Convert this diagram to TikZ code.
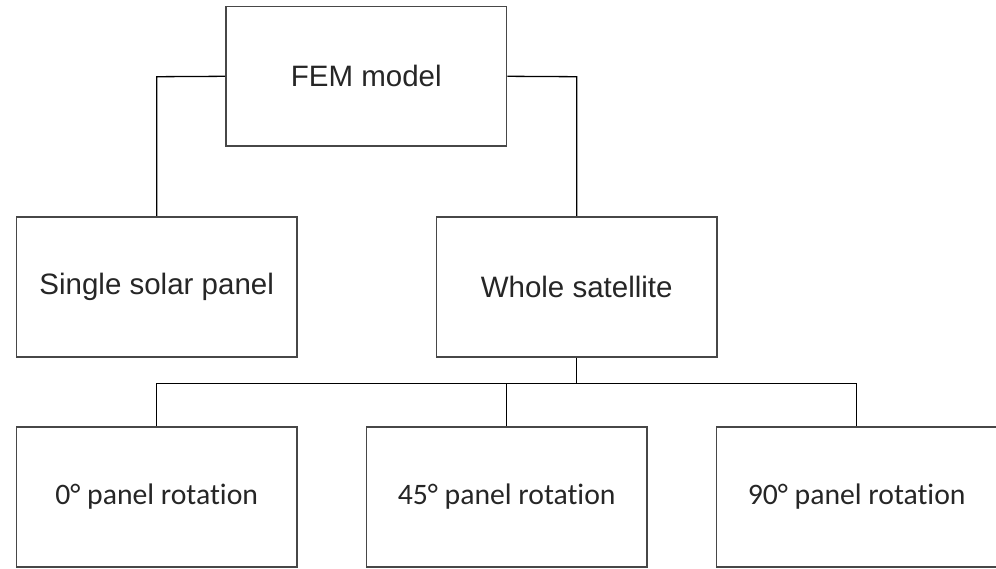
\documentclass[tikz,border=0pt]{standalone}
\usepackage{fontspec}
\setmainfont{Liberation Sans}
\newfontfamily\calibfont[Ligatures={NoCommon,NoRare,NoContextual},RawFeature={-liga;-dlig;-calt}]{Carlito}
\begin{document}
\begin{tikzpicture}[x=1pt,y=-1pt,
  box/.style={draw=black!72, line width=1.6pt, fill=white, minimum width=280.7pt, inner sep=0pt, text=black!85},
  topbox/.style={box, minimum height=139.3pt, font=\fontsize{29.5}{35}\selectfont},
  bottombox/.style={box, minimum height=139.5pt, font=\calibfont\fontsize{29.7}{35}\selectfont},
  link/.style={draw=black, line width=1.3pt}]
\useasboundingbox (0,0) rectangle (996,568);
\fill[white] (0,0) rectangle (996,568);
\coordinate (fl) at (156.7,76.7);
\coordinate (fr) at (576.7,76.7);
\coordinate (bus) at (576.7,383.3);
\node[topbox] (fem) at (366.3,76.3) {FEM model};
\node[topbox, minimum height=140pt] (single) at (156.7,286.7) {Single solar panel};
\node[topbox, minimum height=140pt] (whole) at (576.7,286.7) {Whole satellite};
\node[bottombox] (r0) at (156.7,497) {0° panel rotation};
\node[bottombox] (r45) at (506.7,497) {45° panel rotation};
\node[bottombox] (r90) at (856.7,497) {90° panel rotation};
\draw[link] (fem.west) -- (fl) -- (single.north);
\draw[link] (fem.east) -- (fr) -- (whole.north);
\draw[link] (whole.south) -- (bus) -| (r0.north);
\draw[link] (bus) -| (r45.north);
\draw[link] (bus) -| (r90.north);
\end{tikzpicture}
\end{document}
